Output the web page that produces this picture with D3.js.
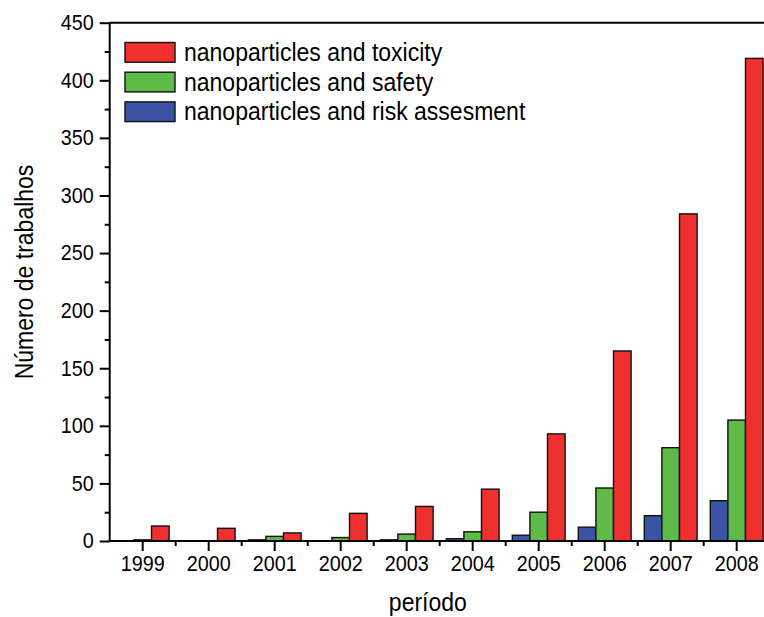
<!DOCTYPE html>
<html>
<head>
<meta charset="utf-8">
<script src="https://cdnjs.cloudflare.com/ajax/libs/d3/7.8.5/d3.min.js"></script>
<style>
  html, body { margin: 0; padding: 0; background: #fff; }
  svg { display: block; font-family: "Liberation Sans", Arial, Helvetica, sans-serif; }
</style>
</head>
<body>
<svg id="chart" width="764" height="617"></svg>
<script>
const years = ["1999","2000","2001","2002","2003","2004","2005","2006","2007","2008"];
const seriesNames = ["nanoparticles and toxicity", "nanoparticles and safety", "nanoparticles and risk assesment"];
const toxicity = [13, 11, 7, 24, 30, 45, 93, 165, 284, 419];
const safety   = [1, 0, 4, 3, 6, 8, 25, 46, 81, 105];
const risk     = [0, 0, 1, 0, 1, 2, 5, 12, 22, 35];
const yTicks = [0, 50, 100, 150, 200, 250, 300, 350, 400, 450];
const yMinorTicks = [25, 75, 125, 175, 225, 275, 325, 375, 425];
const colors = { "nanoparticles and toxicity": "#EE302E", "nanoparticles and safety": "#5EBB47", "nanoparticles and risk assesment": "#3A53A4" };
const barOrder = ["nanoparticles and risk assesment", "nanoparticles and safety", "nanoparticles and toxicity"];
const valuesBySeries = {
  "nanoparticles and toxicity": toxicity,
  "nanoparticles and safety": safety,
  "nanoparticles and risk assesment": risk
};

(function () {
const svg = d3.select("#chart");
const mLeft = 109.7, mRight = 769.7, mTop = 22.7, mBottom = 541;
const sx = 0.92; // horizontal condensation of the reference's sans font

const x = d3.scaleBand().domain(years).range([mLeft, mRight]).paddingInner(0.2).paddingOuter(0.1);
const xSub = d3.scaleBand().domain(barOrder).range([0, x.bandwidth()]);
const y = d3.scaleLinear().domain([0, 450]).range([mBottom, mTop]);

// bars
const data = [];
years.forEach((yr, i) => barOrder.forEach(s => data.push({ yr, s, v: valuesBySeries[s][i] })));
svg.append("g").selectAll("rect").data(data).join("rect")
  .attr("x", d => x(d.yr) + xSub(d.s))
  .attr("y", d => y(d.v))
  .attr("width", xSub.bandwidth())
  .attr("height", d => mBottom - y(d.v))
  .attr("fill", d => colors[d.s])
  .attr("stroke", "#111")
  .attr("stroke-width", 1.4);

// frame (top and right)
svg.append("line").attr("x1", mLeft).attr("x2", mRight).attr("y1", mTop).attr("y2", mTop)
  .attr("stroke", "#000").attr("stroke-width", 2);
svg.append("line").attr("x1", mRight).attr("x2", mRight).attr("y1", mTop).attr("y2", mBottom)
  .attr("stroke", "#000").attr("stroke-width", 2);

// y axis
const yAxis = svg.append("g").attr("transform", `translate(${mLeft},0)`)
  .call(d3.axisLeft(y).tickValues(yTicks).tickSize(10).tickPadding(4).tickFormat(d3.format("d")));
yAxis.select(".domain").attr("stroke-width", 2).attr("d", `M0,${mTop}V${mBottom}`);
yAxis.selectAll(".tick line").attr("stroke-width", 2);
yAxis.selectAll(".tick text").attr("font-size", 21.5).attr("font-family", "Liberation Sans, Arial, sans-serif")
  .attr("fill", "#000").attr("x", -16 / sx).attr("transform", `scale(${sx},1)`);
svg.append("g").attr("transform", `translate(${mLeft},0)`)
  .call(d3.axisLeft(y).tickValues(yMinorTicks).tickSize(5).tickFormat(""))
  .call(g => { g.select(".domain").remove(); g.selectAll(".tick line").attr("stroke-width", 2); });

// x axis
const xAxis = svg.append("g").attr("transform", `translate(0,${mBottom})`)
  .call(d3.axisBottom(x).tickSize(10).tickPadding(5));
xAxis.select(".domain").attr("stroke-width", 2).attr("d", `M${mLeft},0H${mRight}`);
xAxis.selectAll(".tick line").attr("stroke-width", 2);
xAxis.selectAll(".tick text").attr("font-size", 21.5).attr("font-family", "Liberation Sans, Arial, sans-serif")
  .attr("fill", "#000").attr("transform", `scale(${sx},1)`);
// minor x ticks at group boundaries
const boundaries = years.slice(1).map(yr => x(yr) - x.step() * x.paddingInner() / 2);
svg.append("g").selectAll("line").data(boundaries).join("line")
  .attr("x1", d => d).attr("x2", d => d).attr("y1", mBottom).attr("y2", mBottom + 5)
  .attr("stroke", "#000").attr("stroke-width", 2);

// axis titles
svg.append("g").attr("transform", `translate(${(mLeft + 764) / 2 - 9},611) scale(${sx},1)`)
  .append("text").attr("text-anchor", "middle").attr("font-size", 25).text("período");
svg.append("g").attr("transform", `translate(33,272) rotate(-90) scale(${sx},1)`)
  .append("text").attr("text-anchor", "middle").attr("font-size", 25).text("Número de trabalhos");

// legend
const legend = svg.append("g").attr("transform", "translate(125,42.5)");
seriesNames.forEach((s, i) => {
  const g = legend.append("g").attr("transform", `translate(0,${i * 29.7})`);
  g.append("rect").attr("width", 50).attr("height", 19.7)
    .attr("fill", colors[s]).attr("stroke", "#111").attr("stroke-width", 1.4);
  g.append("g").attr("transform", `translate(59,18.5) scale(${sx},1)`)
    .append("text").attr("font-size", 25).text(s);
});
})();
</script>
</body>
</html>
